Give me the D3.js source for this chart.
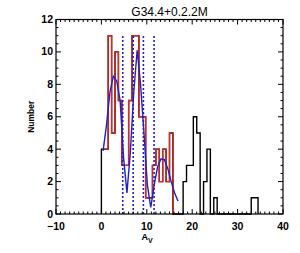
<!DOCTYPE html>
<html><head><meta charset="utf-8">
<script src="https://cdn.jsdelivr.net/npm/d3@7"></script>
<style>body{margin:0;background:#fff}svg{display:block}</style>
</head><body><svg id="c" width="300" height="253"></svg>
<script>
const title = "G34.4+0.2.2M";
const xTicks = [-10, 0, 10, 20, 30, 40];
const yTicks = [0, 2, 4, 6, 8, 10, 12];
const binWidth = 0.75;
// full sample (black), bins starting at 0
const allCounts = [4, 4, 11, 5, 10, 7, 3, 3, 7, 11, 11, 6, 6, 1, 1, 3, 4, 2, 4, 2, 5,
  0, 0, 0, 2, 3, 3, 6, 5, 0, 2, 4, 0, 1, 0, 0, 0, 0, 0, 0, 0, 0, 0, 0, 1, 1];
// subset (red), starting at bin 1
const redStartBin = 1;
const redCounts = [4, 11, 5, 10, 7, 3, 3, 7, 11, 11, 6, 6, 1, 1, 3, 4, 2, 4, 2, 5];
// fitted curve (blue) at bin centres
const fitX = [0.375, 1.125, 1.875, 2.625, 3.375, 4.125, 4.875, 5.625, 6.375, 7.125, 7.875,
  8.625, 9.375, 10.125, 10.875, 11.625, 12.375, 13.125, 13.875, 14.625, 15.375, 16.125, 16.875];
const fitY = [3.9, 5.5, 7.5, 8.5, 8.2, 7.0, 3.5, 1.3, 3.8, 7.5, 10.1,
  8.0, 5.0, 1.8, 0.4, 1.8, 2.9, 3.4, 3.35, 2.8, 2.0, 1.3, 0.8];
const cutLines = [4.7, 7.0, 9.25, 11.6];
const cutTop = 11;

const svg = d3.select("#c");
const L = 56, R = 283, T = 19.5, B = 214;
const x = d3.scaleLinear().domain([-10, 40]).range([L, R]);
const y = d3.scaleLinear().domain([0, 12]).range([B, T]);
const font = "'Liberation Sans', Arial, sans-serif";

function stepPath(counts, startBin, closeStart) {
  const p = d3.path();
  const x0 = startBin * binWidth;
  if (closeStart) { p.moveTo(x(x0), y(0)); p.lineTo(x(x0), y(counts[0])); }
  else p.moveTo(x(x0), y(counts[0]));
  counts.forEach((c, i) => {
    const a = (startBin + i) * binWidth, b = a + binWidth;
    p.lineTo(x(a), y(c)); p.lineTo(x(b), y(c));
  });
  p.lineTo(x((startBin + counts.length) * binWidth), y(0));
  return p.toString();
}
svg.append("path").attr("d", stepPath(allCounts, 0, true))
  .attr("fill", "none").attr("stroke", "#000").attr("stroke-width", 1.4);
svg.append("path").attr("d", stepPath(redCounts, redStartBin, false))
  .attr("fill", "none").attr("stroke", "#e3241f").attr("stroke-width", 1.3);

svg.selectAll("line.cut").data(cutLines).enter().append("line")
  .attr("x1", d => x(d)).attr("x2", d => x(d)).attr("y1", y(0)).attr("y2", y(cutTop))
  .attr("stroke", "#2020c8").attr("stroke-width", 1.6).attr("stroke-dasharray", "2,2");

svg.append("path").datum(fitX.map((d, i) => [d, fitY[i]]))
  .attr("d", d3.line().x(d => x(d[0])).y(d => y(d[1])))
  .attr("fill", "none").attr("stroke", "#2020c8").attr("stroke-width", 1.4);

svg.append("rect").attr("x", L).attr("y", T).attr("width", R - L).attr("height", B - T)
  .attr("fill", "none").attr("stroke", "#000").attr("stroke-width", 1.2);

const xMinor = d3.range(-10, 40.001, 1);
const yMinor = d3.range(0, 12.001, 0.5);
const g = svg.append("g").attr("stroke", "#000").attr("stroke-width", 1);
xMinor.forEach(v => {
  const major = xTicks.includes(v);
  const len = major ? 5 : 2.5;
  g.append("line").attr("x1", x(v)).attr("x2", x(v)).attr("y1", B).attr("y2", B - len);
  g.append("line").attr("x1", x(v)).attr("x2", x(v)).attr("y1", T).attr("y2", T + len);
});
yMinor.forEach(v => {
  const major = yTicks.includes(v);
  const len = major ? 5 : 2.5;
  g.append("line").attr("y1", y(v)).attr("y2", y(v)).attr("x1", L).attr("x2", L + len);
  g.append("line").attr("y1", y(v)).attr("y2", y(v)).attr("x1", R).attr("x2", R - len);
});

svg.selectAll("text.xt").data(xTicks).enter().append("text")
  .attr("x", d => x(d)).attr("y", B + 16).attr("text-anchor", "middle")
  .attr("font-family", font).attr("font-size", 10.5).attr("font-weight", "bold")
  .text(d => d < 0 ? "\u2212" + Math.abs(d) : d);
svg.selectAll("text.yt").data(yTicks).enter().append("text")
  .attr("x", L - 3).attr("y", d => y(d) + 3.5).attr("text-anchor", "end")
  .attr("font-family", font).attr("font-size", 10.5).attr("font-weight", "bold")
  .text(d => d);
svg.append("text").attr("x", (L + R) / 2).attr("y", 16).attr("text-anchor", "middle")
  .attr("font-family", font).attr("font-size", 12).text(title);
svg.append("text").attr("transform", `translate(34,${(T + B) / 2}) rotate(-90)`)
  .attr("text-anchor", "middle").attr("font-family", font).attr("font-size", 8.5)
  .attr("font-weight", "bold").text("Number");
const xl = svg.append("text").attr("x", 147).attr("y", 240).attr("text-anchor", "middle")
  .attr("font-family", font).attr("font-size", 9).attr("font-weight", "bold");
xl.append("tspan").text("A");
xl.append("tspan").attr("dy", 3).attr("font-size", 7).text("V");
</script></body></html>
